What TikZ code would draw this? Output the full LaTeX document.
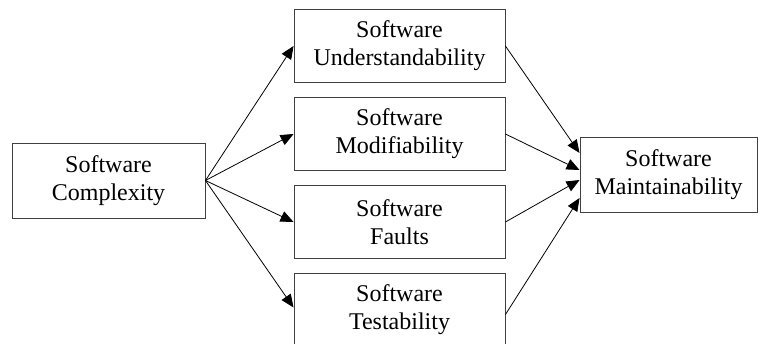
\documentclass[tikz,border=0pt]{standalone}
\usepackage{fontspec}
\setmainfont{Liberation Serif}
\usetikzlibrary{arrows.meta}

\begin{document}
\begin{tikzpicture}[x=1pt,y=-1pt,
  box/.style={draw=black!75, line width=0.9pt, align=center, inner sep=0pt,
    font=\fontsize{24}{28}\selectfont},
  midbox/.style={box, minimum width=211pt, minimum height=73pt},
  link/.style={line width=0.8pt, -{Triangle[length=13pt,width=11pt]}}]

\clip (0,0) rectangle (761,343);

\node[box, minimum width=193pt, minimum height=75pt] (cx) at (108.5,180.5) {Software\\Complexity};
\node[midbox] (und) at (399.5,46) {Software\\Understandability};
\node[midbox] (mod) at (399.5,134) {Software\\Modifiability};
\node[midbox] (flt) at (399.5,222) {Software\\Faults};
\node[midbox] (tst) at (399.5,309.5) {Software\\Testability};
\node[box, minimum width=177pt, minimum height=75pt] (mnt) at (668.5,174.5) {Software\\Maintainability};

\draw[link] (cx.east) -- (und.west);
\draw[link] (cx.east) -- (mod.west);
\draw[link] (cx.east) -- (flt.west);
\draw[link] (cx.east) -- ([yshift=2pt]tst.west);

\draw[link] (und.east) -- ([yshift=21.5pt]mnt.west);
\draw[link] (mod.east) -- ([yshift=4.5pt]mnt.west);
\draw[link] (flt.east) -- ([yshift=-5.5pt]mnt.west);
\draw[link] ([yshift=-5pt]tst.east) -- ([yshift=-23.5pt]mnt.west);
\end{tikzpicture}
\end{document}
